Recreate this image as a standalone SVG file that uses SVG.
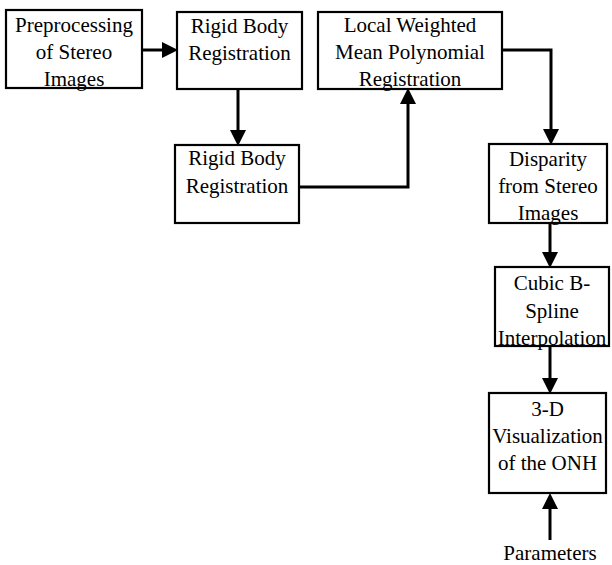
<svg xmlns="http://www.w3.org/2000/svg" width="612" height="565" viewBox="0 0 612 565">
<style>
.box{fill:#fff;stroke:#000;stroke-width:2.2}
.lbl{font-family:'Liberation Serif','Times New Roman',serif;font-size:21px;fill:#000;text-anchor:middle}
.con{fill:none;stroke:#000;stroke-width:3}
</style>
<defs>
<marker id="ah" markerUnits="userSpaceOnUse" markerWidth="16" markerHeight="16" refX="0" refY="7.5" orient="auto" viewBox="0 0 15 15">
<path d="M0,0 L15,7.5 L0,15 Z" fill="#000"/>
</marker>
</defs>
<rect width="612" height="565" fill="#fff"/>
<g id="connectors">
<path class="con" d="M142,50 H162" marker-end="url(#ah)"/>
<path class="con" d="M238,89 V130" marker-end="url(#ah)"/>
<path class="con" d="M299,187 H408 V104" marker-end="url(#ah)"/>
<path class="con" d="M502,50 H551 V129" marker-end="url(#ah)"/>
<path class="con" d="M550,223 V252" marker-end="url(#ah)"/>
<path class="con" d="M550,346 V378" marker-end="url(#ah)"/>
<path class="con" d="M550,540 V509" marker-end="url(#ah)"/>
</g>
<g id="preprocessing">
<rect class="box" x="6" y="10" width="136" height="78"/>
<text class="lbl" x="74" y="32">Preprocessing</text>
<text class="lbl" x="74" y="59">of Stereo</text>
<text class="lbl" x="74" y="86">Images</text>
</g>
<g id="rigid1">
<rect class="box" x="177" y="12" width="125" height="77"/>
<text class="lbl" x="239.5" y="33">Rigid Body</text>
<text class="lbl" x="239.5" y="60">Registration</text>
</g>
<g id="local">
<rect class="box" x="318" y="12" width="184" height="77"/>
<text class="lbl" x="410" y="32">Local Weighted</text>
<text class="lbl" x="410" y="59">Mean Polynomial</text>
<text class="lbl" x="410" y="86">Registration</text>
</g>
<g id="rigid2">
<rect class="box" x="175" y="145" width="124" height="78"/>
<text class="lbl" x="237" y="165">Rigid Body</text>
<text class="lbl" x="237" y="193">Registration</text>
</g>
<g id="disparity">
<rect class="box" x="489" y="144" width="118" height="79"/>
<text class="lbl" x="548" y="166">Disparity</text>
<text class="lbl" x="548" y="193">from Stereo</text>
<text class="lbl" x="548" y="220">Images</text>
</g>
<g id="cubic">
<rect class="box" x="495" y="267" width="114" height="79"/>
<text class="lbl" x="552" y="290">Cubic B-</text>
<text class="lbl" x="552" y="318">Spline</text>
<text class="lbl" x="552" y="345">Interpolation</text>
</g>
<g id="visualization">
<rect class="box" x="489" y="393" width="117" height="100"/>
<text class="lbl" x="547.5" y="416">3-D</text>
<text class="lbl" x="547.5" y="443">Visualization</text>
<text class="lbl" x="547.5" y="470">of the ONH</text>
</g>
<g id="parameters">
<text class="lbl" x="550" y="560">Parameters</text>
</g>
</svg>
